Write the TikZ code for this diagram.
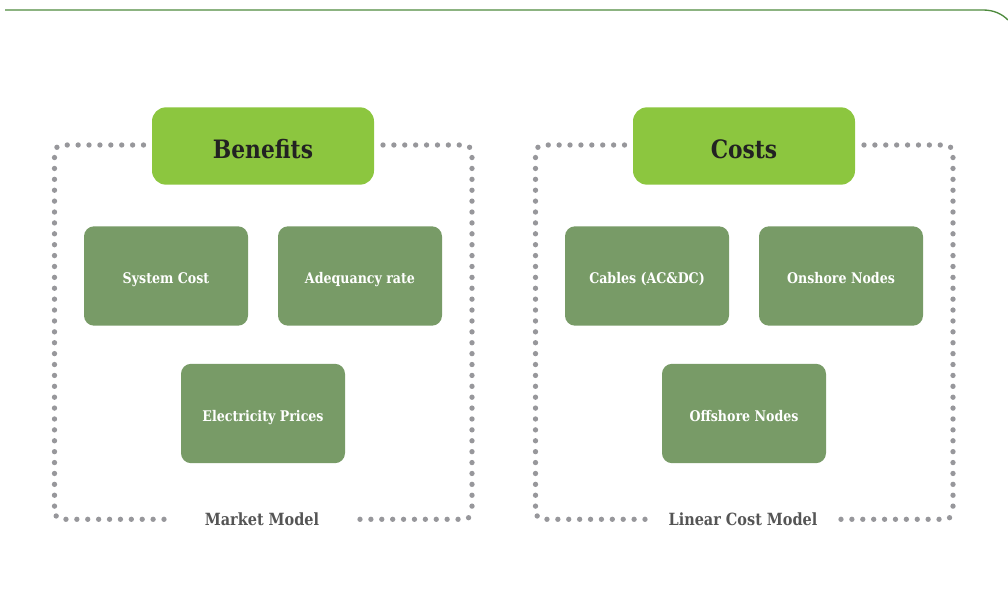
\documentclass[tikz,border=0pt]{standalone}
\usepackage{fontspec}
\setmainfont{DejaVu Serif}[FakeStretch=0.86]
\definecolor{lime}{HTML}{8CC63F}
\definecolor{moss}{HTML}{789B67}
\definecolor{dotgrey}{HTML}{97979B}
\definecolor{rule}{HTML}{4E8B3E}
\definecolor{darktext}{HTML}{222222}
\definecolor{greytext}{HTML}{555555}
\tikzset{
  x=0.75pt,y=-0.75pt,
  dotframe/.style={draw=dotgrey,line width=4pt,line cap=round,dash pattern=on 0pt off 8.17pt,rounded corners=6pt},
  headbox/.style={fill=lime,rounded corners=10.5pt,minimum width=166.5pt,minimum height=58pt,inner sep=0pt,text height=18pt,text depth=0pt,text=darktext,font=\bfseries\fontsize{19}{22}\selectfont},
  itembox/.style={fill=moss,rounded corners=7.5pt,minimum width=123pt,minimum height=74.5pt,inner sep=0pt,text height=10.5pt,text depth=0pt,text=white,font=\bfseries\fontsize{11}{13}\selectfont},
  lowbox/.style={itembox,text height=11.6pt},
  caption/.style={text=greytext,inner sep=0pt,text height=9pt,text depth=0pt,font=\bfseries\fontsize{12.6}{15}\selectfont}
}
\begin{document}
\begin{tikzpicture}
\useasboundingbox (0,0) rectangle (1008,592);
\draw[rule,line width=1pt] (5,10) -- (983,10) .. controls (994,10) and (1002,14) .. (1008,20);
% left frame
\draw[dotframe] (143.5,145) -- (54.5,145) -- (54.5,507);
\draw[dotframe] (164,519.3) -- (54.5,519.3) -- (54.5,510);
\draw[dotframe] (383,145) -- (472,145) -- (472,507);
\draw[dotframe] (360,519.3) -- (472,519.3) -- (472,510);
% right frame
\draw[dotframe] (624.5,145) -- (535.5,145) -- (535.5,507);
\draw[dotframe] (645,519.3) -- (535.5,519.3) -- (535.5,510);
\draw[dotframe] (864,145) -- (953,145) -- (953,507);
\draw[dotframe] (841,519.3) -- (953,519.3) -- (953,510);
\node[headbox] (benefits) at (263,146) {Benefits};
\node[headbox] (costs) at (744,146) {Costs};
\node[itembox] (syscost) at (166,276) {System Cost};
\node[itembox] (adequacy) at (360,276) {Adequancy rate};
\node[lowbox] (prices) at (263,413.5) {Electricity Prices};
\node[itembox] (cables) at (647,276) {Cables (AC\&DC)};
\node[itembox] (onshore) at (841,276) {Onshore Nodes};
\node[lowbox] (offshore) at (744,413.5) {Offshore Nodes};
\node[caption] (market) at (262,519) {Market Model};
\node[caption] (linear) at (743,519) {Linear Cost Model};
\end{tikzpicture}
\end{document}
